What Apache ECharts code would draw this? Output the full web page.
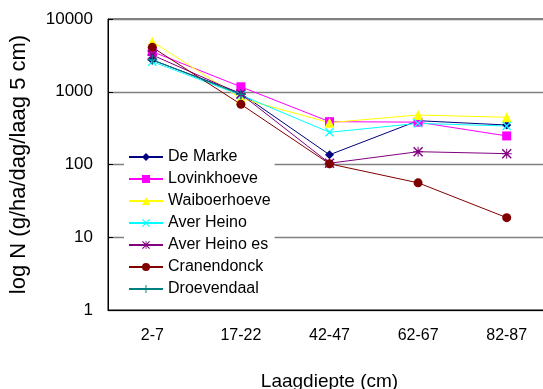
<!DOCTYPE html>
<html><head><meta charset="utf-8">
<script src="https://cdn.jsdelivr.net/npm/echarts@6/dist/echarts.min.js"></script>
<style>html,body{margin:0;padding:0;background:#fff}#c{width:543px;height:389px}</style>
</head><body><div id="c"></div>
<script>
const categories = ['2-7', '17-22', '42-47', '62-67', '82-87'];
const deMarke = [2730, 950, 136, 400, 349];
const lovinkhoeve = [3560, 1170, 388, 382, 247];
const waiboerhoeve = [4880, 810, 376, 479, 446];
const averHeino = [2590, 900, 277, 368, 338];
const averHeinoEs = [3200, 930, 104, 150, 141];
const cranendonck = [4080, 672, 102, 56, 18.6];
const droevendaal = [2750, 920, null, null, null];
const yTicks = [1, 10, 100, 1000, 10000];

const X = 'path://M0,1 L1,0 L5,4 L9,0 L10,1 L6,5 L10,9 L9,10 L5,6 L1,10 L0,9 L4,5 Z';
const PLUS = 'path://M4.4,0 H5.6 V4.4 H10 V5.6 H5.6 V10 H4.4 V5.6 H0 V4.4 H4.4 Z';
const AST = 'path://M0,1 L1,0 L4.5,3.5 L4.5,0 L5.5,0 L5.5,3.5 L9,0 L10,1 L6.5,4.5 L10,4.5 L10,5.5 L6.5,5.5 L10,9 L9,10 L5.5,6.5 L5.5,10 L4.5,10 L4.5,6.5 L1,10 L0,9 L3.5,5.5 L0,5.5 L0,4.5 L3.5,4.5 Z';

function s(name, data, color, symbol, size) {
  return { name, type: 'line', data, symbol, symbolSize: size, connectNulls: false,
    lineStyle: { color, width: 1 }, itemStyle: { color }, animation: false };
}
const font = 'Liberation Sans';
const chart = echarts.init(document.getElementById('c'));
chart.setOption({
  animation: false,
  textStyle: { fontFamily: font },
  grid: { left: 108, top: 19, width: 443, height: 291, outerBoundsMode: 'none', containLabel: false,
    show: true, borderColor: '#000', borderWidth: 1, backgroundColor: '#fff' },
  legend: {
    orient: 'vertical', left: 124, top: 147, backgroundColor: '#fff', padding: [2, 4, 2, 4],
    itemWidth: 34, itemHeight: 10, itemGap: 6,
    textStyle: { fontFamily: font, fontSize: 16, color: '#000' },
    data: ['De Marke', 'Lovinkhoeve', 'Waiboerhoeve', 'Aver Heino', 'Aver Heino es', 'Cranendonck', 'Droevendaal']
  },
  xAxis: {
    type: 'category', data: categories, boundaryGap: true,
    axisLine: { lineStyle: { color: '#000', width: 1 } },
    axisTick: { lineStyle: { color: '#000' }, length: 5 },
    axisLabel: { color: '#000', fontSize: 16, margin: 18, fontFamily: font },
    name: 'Laagdiepte (cm)', nameLocation: 'middle', nameGap: 62,
    nameTextStyle: { color: '#000', fontSize: 19, fontFamily: font }
  },
  yAxis: {
    type: 'log', logBase: 10, min: yTicks[0], max: yTicks[yTicks.length - 1],
    axisLine: { show: true, lineStyle: { color: '#000', width: 1 } },
    axisTick: { show: true, inside: true, lineStyle: { color: '#000' } },
    splitLine: { show: true, lineStyle: { color: '#808080', width: 1.3 } },
    minorTick: { show: false },
    axisLabel: { color: '#000', fontSize: 17, margin: 15, fontFamily: font, formatter: v => String(v) },
    name: 'log N (g/ha/dag/laag 5 cm)', nameLocation: 'middle', nameGap: 78,
    nameTextStyle: { color: '#000', fontSize: 22, fontFamily: font }
  },
  series: [
    s('De Marke', deMarke, '#000080', 'diamond', 9),
    s('Lovinkhoeve', lovinkhoeve, '#FF00FF', 'rect', 9),
    s('Waiboerhoeve', waiboerhoeve, '#FFFF00', 'triangle', 10),
    s('Aver Heino', averHeino, '#00FFFF', X, 9),
    s('Aver Heino es', averHeinoEs, '#800080', AST, 10),
    s('Cranendonck', cranendonck, '#800000', 'circle', 9),
    s('Droevendaal', droevendaal, '#008080', PLUS, 10)
  ]
});
</script></body></html>
